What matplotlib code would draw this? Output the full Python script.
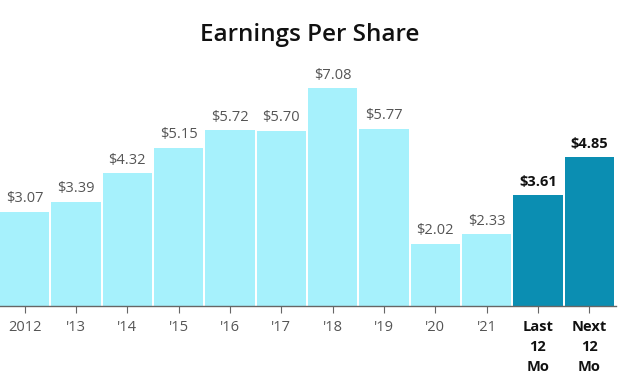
import matplotlib.pyplot as plt

# データ
labels = ['2012', "'13", "'14", "'15", "'16", "'17", "'18", "'19", "'20", "'21",
          'Last\n12\nMo', 'Next\n12\nMo']
eps = [3.07, 3.39, 4.32, 5.15, 5.72, 5.70, 7.08, 5.77, 2.02, 2.33, 3.61, 4.85]
highlight = [False] * 10 + [True, True]

plt.rcParams['font.family'] = ['Open Sans', 'DejaVu Sans']

fig = plt.figure(figsize=(6.2, 3.8), dpi=100)
ax = fig.add_axes([0.0, 74 / 380, 616 / 620, 246 / 380])

light = '#a6f1fc'
dark = '#0b8eb2'
x = list(range(len(eps)))
colors = [dark if h else light for h in highlight]
ax.bar(x, eps, width=0.96, color=colors, edgecolor='none')

# 値ラベル
for xi, v, h in zip(x, eps, highlight):
    ax.text(xi, v + 0.18, f'${v:.2f}', ha='center', va='bottom',
            fontsize=10.5, color='#111111' if h else '#555555',
            fontweight='bold' if h else 'normal')

ax.set_xlim(-0.48, 11.52)
ax.set_ylim(0, 8)
ax.set_xticks(x)
ax.set_xticklabels(labels, linespacing=1.55)
for lbl, h in zip(ax.get_xticklabels(), highlight):
    lbl.set_fontsize(10.5)
    if h:
        lbl.set_fontweight('bold')
        lbl.set_color('#111111')
    else:
        lbl.set_color('#555555')
ax.tick_params(axis='x', length=5, color='#666666', pad=5)
ax.set_yticks([])
for s in ['top', 'right', 'left']:
    ax.spines[s].set_visible(False)
ax.spines['bottom'].set_color('#666666')
ax.spines['bottom'].set_linewidth(1)

fig.suptitle('Earnings Per Share', fontsize=17.5, fontweight='semibold',
             color='#111111', y=0.94)

fig.savefig('out.png', dpi=100)
